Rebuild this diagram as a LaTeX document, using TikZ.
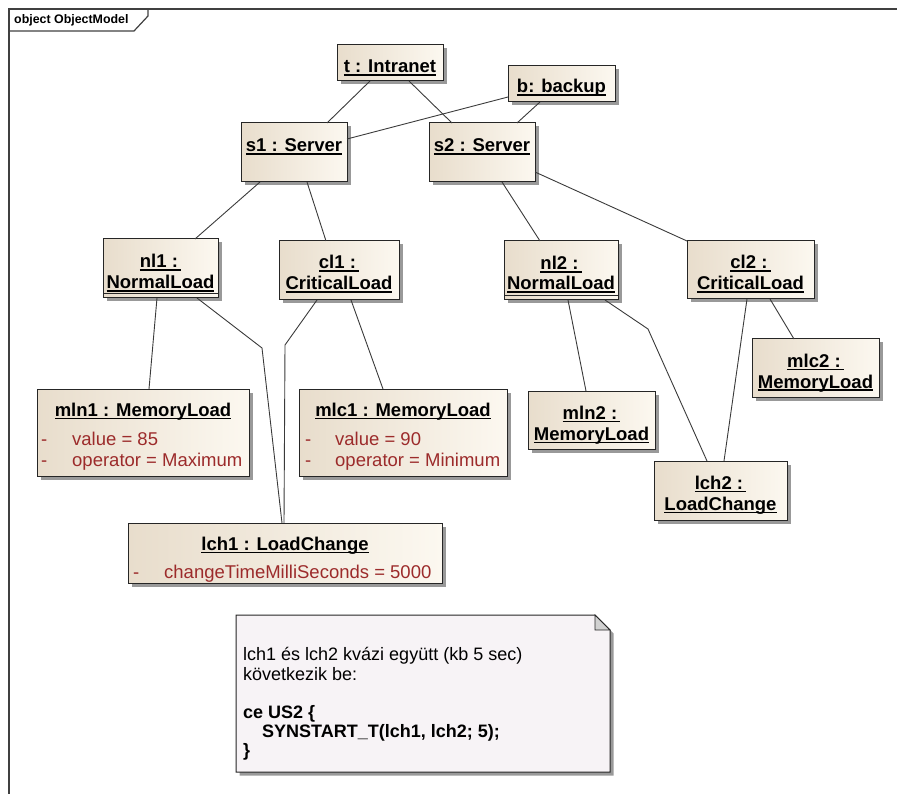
\documentclass[tikz,border=0pt]{standalone}
\usepackage{fontspec}
\setmainfont{Liberation Sans}
\usetikzlibrary{shadows,calc}
\definecolor{objL}{HTML}{E8DDCC}
\definecolor{objR}{HTML}{FCF8F0}
\definecolor{attrred}{HTML}{9C2B2B}
\definecolor{notefill}{HTML}{F7F3F6}
\definecolor{linegray}{HTML}{3A3A3A}
\newcommand\ulx[1]{\setbox0\hbox{#1}\rlap{\rule[-2.6pt]{\wd0}{1.1pt}}\box0}
\newcommand\objbox[5]{%
  \pgfmathsetmacro\bw{#4-#2}\pgfmathsetmacro\bh{#5-#3}%
  \node[objstyle, minimum width=\bw pt, minimum height=\bh pt] (#1) at ({(#2+#4)/2},{(#3+#5)/2}) {};}
\tikzset{
  objstyle/.style={draw=black!85, line width=1pt, left color=objL, right color=objR,
    inner sep=0pt, outer sep=0pt,
    drop shadow={shadow xshift=3.5pt, shadow yshift=-3.5pt, fill=black!40, opacity=1}},
  nm/.style={font=\fontsize{18.5}{20}\selectfont\bfseries, inner sep=0pt, anchor=base},
  attr/.style={font=\fontsize{18.5}{20}\selectfont, text=attrred, inner sep=0pt, anchor=base west},
  notetxt/.style={font=\fontsize{18}{20}\selectfont, inner sep=0pt, anchor=base west},
  conn/.style={draw=linegray, line width=0.9pt},
  frame/.style={draw=black!75, line width=1.2pt}
}
\begin{document}
\begin{tikzpicture}[x=1pt,y=-1pt]
\useasboundingbox (0,0) rectangle (897,794);
% frame
\draw[frame] (9,800) -- (9,9) -- (905,9);
\draw[frame] (9,31) -- (134,31) -- (148,16) -- (148,9);
\node[font=\fontsize{12.4}{14}\selectfont\bfseries, inner sep=0pt, anchor=base west] (title) at (14,24) {object ObjectModel};

% boxes
\objbox{t}{337}{45}{443}{81}
\objbox{b}{508}{66}{615}{102}
\objbox{s1}{241}{123}{347}{182}
\objbox{s2}{429}{123}{535}{182}
\objbox{nl1}{103}{239}{218}{298}
\objbox{cl1}{279}{241}{399}{300}
\objbox{nl2}{504}{241}{618}{300}
\objbox{cl2}{687}{241}{814}{299}
\objbox{mlc2}{752}{339}{879}{397}
\objbox{mln2}{528}{391}{655}{449}
\objbox{lch2}{654}{461}{787}{520}
\objbox{mln1}{37}{389}{249}{476}
\objbox{mlc1}{299}{389}{507}{476}
\objbox{lch1}{128}{523}{442}{583}

% compartment separators
\draw[draw=black!85, line width=0.8pt] ([yshift=5pt]nl1.south west) -- ([yshift=5pt]nl1.south east);
\draw[draw=black!85, line width=0.8pt] ([yshift=5pt]nl2.south west) -- ([yshift=5pt]nl2.south east);

% names
\node[nm] (t-n) at (390,73) {\ulx{t : Intranet}};
\node[nm] (b-n) at (561.5,93) {\ulx{b: backup}};
\node[nm] (s1-n) at (294,152) {\ulx{s1 : Server}};
\node[nm] (s2-n) at (482,152) {\ulx{s2 : Server}};
\node[nm] (nl1-a) at (160.5,268) {\ulx{nl1 :\,}};
\node[nm] (nl1-b) at (160.5,289) {\ulx{NormalLoad}};
\node[nm] (cl1-a) at (339,269) {\ulx{cl1 :\,}};
\node[nm] (cl1-b) at (339,290) {\ulx{CriticalLoad}};
\node[nm] (nl2-a) at (561,270) {\ulx{nl2 :\,}};
\node[nm] (nl2-b) at (561,290) {\ulx{NormalLoad}};
\node[nm] (cl2-a) at (750.5,269) {\ulx{cl2 :\,}};
\node[nm] (cl2-b) at (750.5,290) {\ulx{CriticalLoad}};
\node[nm] (mlc2-a) at (815.5,367) {\ulx{mlc2 :\,}};
\node[nm] (mlc2-b) at (815.5,388) {\ulx{MemoryLoad}};
\node[nm] (mln2-a) at (591.5,419) {\ulx{mln2 :\,}};
\node[nm] (mln2-b) at (591.5,440) {\ulx{MemoryLoad}};
\node[nm] (lch2-a) at (720.5,489) {\ulx{lch2 :\,}};
\node[nm] (lch2-b) at (720.5,510) {\ulx{LoadChange}};
\node[nm] (mln1-n) at (143,416) {\ulx{mln1 : MemoryLoad}};
\node[nm] (mlc1-n) at (403,416) {\ulx{mlc1 : MemoryLoad}};
\node[nm] (lch1-n) at (285,550) {\ulx{lch1 : LoadChange}};

% attributes
\node[attr] (mln1-d1) at (41,445) {-};
\node[attr] (mln1-a1) at (72,445) {value = 85};
\node[attr] (mln1-d2) at (41,466) {-};
\node[attr] (mln1-a2) at (72,466) {operator = Maximum};
\node[attr] (mlc1-d1) at (305,445) {-};
\node[attr] (mlc1-a1) at (335,445) {value = 90};
\node[attr] (mlc1-d2) at (305,466) {-};
\node[attr] (mlc1-a2) at (335,466) {operator = Minimum};
\node[attr] (lch1-d1) at (133,578) {-};
\node[attr] (lch1-a1) at (164,578) {changeTimeMilliSeconds = 5000};

% bend points
\coordinate (bendA) at (262,348);
\coordinate (bendB) at (285,345);
\coordinate (bendC) at (648,329);

% connectors
\draw[conn] ([xshift=33pt]t.south west) -- ([xshift=86pt]s1.north west);
\draw[conn] ([xshift=72pt]t.south west) -- ([xshift=23pt]s2.north west);
\draw[conn] ([yshift=5pt]b.south west) -- ([yshift=-16pt]s1.north east);
\draw[conn] ([xshift=32pt]b.south west) -- ([xshift=88pt]s2.north west);
\draw[conn] ([xshift=19pt]s1.south west) -- ([xshift=92pt]nl1.north west);
\draw[conn] ([xshift=66pt]s1.south west) -- ([xshift=47pt]cl1.north west);
\draw[conn] ([xshift=73pt]s2.south west) -- ([xshift=36pt]nl2.north west);
\draw[conn] ([yshift=10pt]s2.south east) -- (cl2.north west);
\draw[conn] ([xshift=54pt]nl1.south west) -- ([xshift=112pt]mln1.north west);
\draw[conn] ([xshift=94pt]nl1.south west) -- (bendA) -- ([xshift=154pt]lch1.north west);
\draw[conn] ([xshift=38pt]cl1.south west) -- (bendB) -- ([xshift=156pt]lch1.north west);
\draw[conn] ([xshift=72pt]cl1.south west) -- ([xshift=84pt]mlc1.north west);
\draw[conn] ([xshift=64pt]nl2.south west) -- ([xshift=58pt]mln2.north west);
\draw[conn] ([xshift=101pt]nl2.south west) -- (bendC) -- ([xshift=53pt]lch2.north west);
\draw[conn] ([xshift=60pt]cl2.south west) -- ([xshift=70pt]lch2.north west);
\draw[conn] ([xshift=83pt]cl2.south west) -- ([xshift=42pt]mlc2.north west);

% note
\fill[black!40] (239.5,618.5) -- (598.5,618.5) -- (613.5,633.5) -- (613.5,775.5) -- (239.5,775.5) -- cycle;
\draw[draw=black!85, line width=1pt, fill=notefill] (236,615) -- (595,615) -- (610,630) -- (610,772) -- (236,772) -- cycle;
\draw[draw=black!85, line width=0.8pt, fill=black!18] (595,615) -- (595,630) -- (610,630) -- cycle;
\coordinate (noteanchor) at (236,615);
\node[notetxt] (n1) at (243,660) {lch1 és lch2 kvázi együtt (kb 5 sec)};
\node[notetxt] (n2) at (243,680) {következik be:};
\node[notetxt, font=\fontsize{18}{20}\selectfont\bfseries] (n3) at (243,718) {ce US2 \{};
\node[notetxt, font=\fontsize{18}{20}\selectfont\bfseries] (n4) at (262,737) {SYNSTART\_T(lch1, lch2; 5);};
\node[notetxt, font=\fontsize{18}{20}\selectfont\bfseries] (n5) at (243,756) {\}};
\end{tikzpicture}
\end{document}
